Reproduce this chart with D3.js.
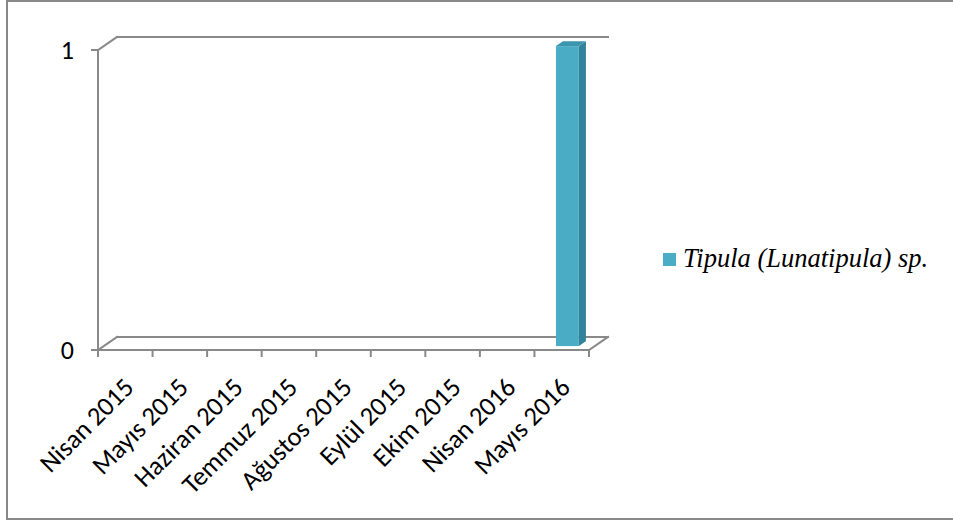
<!DOCTYPE html>
<html><head><meta charset="utf-8">
<script src="https://cdn.jsdelivr.net/npm/d3@7"></script>
<style>html,body{margin:0;padding:0;background:#fff;}svg{display:block;}</style>
</head><body>
<svg id="c" width="953" height="522"></svg>
<script>
const categories = ["Nisan 2015","Mayıs 2015","Haziran 2015","Temmuz 2015","Ağustos 2015","Eylül 2015","Ekim 2015","Nisan 2016","Mayıs 2016"];
const seriesName = "Tipula (Lunatipula) sp.";
const values = [0,0,0,0,0,0,0,0,1];
const yTicks = [0,1];

const svg = d3.select("#c");
const W = 953, H = 522;
const grey = "#898989";
const labelFont = "Carlito, Lato, 'Open Sans', sans-serif";
// outer frame
svg.append("rect").attr("x",7).attr("y",1).attr("width",W+10).attr("height",518)
  .attr("fill","#fff").attr("stroke",grey).attr("stroke-width",2);

const x0 = 98, x1 = 589, yTop = 50, yBot = 350;
const DX = 19, DY = -13;
const x = d3.scaleBand().domain(categories).range([x0,x1]).padding(0);
const y = d3.scaleLinear().domain([0,1]).range([yBot,yTop]);

const g = svg.append("g");
const line = (a,b,c,d)=>g.append("line").attr("x1",a).attr("y1",b).attr("x2",c).attr("y2",d)
  .attr("stroke",grey).attr("stroke-width",2).attr("stroke-linecap","square");

// walls
line(x0+DX, y(1)+DY, x1+DX, y(1)+DY);
line(x0, y(1), x0+DX, y(1)+DY);
line(x0+DX, y(0)+DY, x1+DX, y(0)+DY);
line(x0, y(0), x0+DX, y(0)+DY);
line(x1, y(0), x1+DX, y(0)+DY);
line(x0, y(0), x1, y(0));
line(x0, y(1), x0, y(0));

// y axis ticks & labels
yTicks.forEach(t=>{
  line(x0-6, y(t), x0, y(t));
  g.append("text").attr("x",74).attr("y",y(t)).attr("dy","0.36em")
   .attr("text-anchor","end").attr("font-family",labelFont)
   .attr("font-size",26).attr("fill","#000").text(t);
});

// x ticks
const bounds = categories.map(c=>x(c)).concat([x1]);
bounds.forEach(b=>line(b, y(0), b, y(0)+6));

// x labels
categories.forEach(c=>{
  const cx = x(c)+x.bandwidth()/2 + 10;
  g.append("text").attr("transform",`translate(${cx},${y(0)+39}) rotate(-45)`)
   .attr("text-anchor","end").attr("font-family",labelFont)
   .attr("font-size",26.5).attr("fill","#000").text(c);
});

// bars (3D)
const fz = 0.3, bz = 0.67;
const bw = x.bandwidth()*0.42;
values.forEach((v,i)=>{
  if (v<=0) return;
  const c = categories[i];
  const bx = x(c) + (x.bandwidth()-bw)/2 + DX*fz;
  const ox = DX*fz, oy = DY*fz;
  const dx = DX*(bz-fz), dy = DY*(bz-fz);
  const top = y(v)+oy, bot = y(0)+oy;
  g.append("path").attr("d",`M${bx+bw},${top}L${bx+bw+dx},${top+dy}L${bx+bw+dx},${bot+dy}L${bx+bw},${bot}Z`)
    .attr("fill","#31829a");
  g.append("path").attr("d",`M${bx},${top}L${bx+dx},${top+dy}L${bx+bw+dx},${top+dy}L${bx+bw},${top}Z`)
    .attr("fill","#3d94ad");
  g.append("rect").attr("x",bx).attr("y",top).attr("width",bw).attr("height",bot-top)
    .attr("fill","#4bacc6");
});

// legend
const lg = svg.append("g").attr("transform","translate(663,253)");
lg.append("rect").attr("width",13).attr("height",13).attr("fill","#4bacc6");
lg.append("text").attr("x",20).attr("y",14).attr("font-family","'Liberation Serif','Times New Roman',serif")
  .attr("font-style","italic").attr("font-size",26.5).attr("fill","#000").text(seriesName);
</script>
</body></html>
